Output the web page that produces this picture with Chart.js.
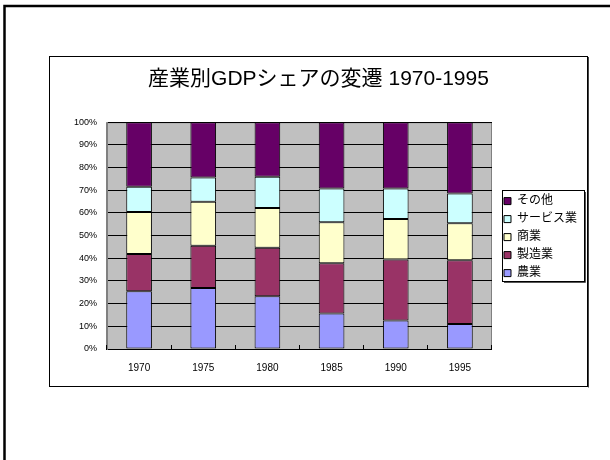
<!DOCTYPE html>
<html lang="ja">
<head>
<meta charset="utf-8">
<title>産業別GDPシェアの変遷</title>
<script src="https://cdn.jsdelivr.net/npm/chart.js@4/dist/chart.umd.min.js"></script>
<style>
  html, body { margin: 0; padding: 0; background: #fff; }
  canvas { display: block; }
</style>
</head>
<body>
<canvas id="gdpChart" width="610" height="460"></canvas>
<script>
// Dados (% do PIB por setor)
const anos = ['1970', '1975', '1980', '1985', '1990', '1995'];
const agricultura = [25.5, 26.9, 23.3, 15.6, 12.6, 11.0];   // 農業
const manufatura  = [16.4, 18.6, 21.3, 22.2, 26.9, 28.1];   // 製造業
const comercio    = [18.5, 19.4, 17.6, 18.1, 17.8, 16.3];   // 商業
const servicos    = [11.1, 10.7, 13.7, 14.9, 13.5, 13.2];   // サービス業
const outros      = [28.5, 24.4, 24.1, 29.2, 29.2, 31.4];   // その他
const ticksY = [0, 10, 20, 30, 40, 50, 60, 70, 80, 90, 100];

const titulo = '産業別GDPシェアの変遷 1970-1995';
const fonte = "'Liberation Sans', 'Noto Sans CJK JP', sans-serif";

// Moldura da página, caixa do gráfico e fundo cinza da área de plotagem
const molduraPlugin = {
    id: 'moldura',
    afterLayout(chart) {
        // legenda afastada da área de plotagem e centrada nela, como no original
        const lg = chart.legend;
        const area = chart.chartArea;
        lg.left += 6;
        lg.right += 6;
        lg.top = area.top + 1;
        lg.bottom = area.bottom + 2;
        lg.height = lg.bottom - lg.top;
    },
    beforeDraw(chart) {
        const ctx = chart.ctx;
        const area = chart.chartArea;
        ctx.save();
        ctx.fillStyle = '#fff';
        ctx.fillRect(0, 0, chart.width, chart.height);

        ctx.strokeStyle = '#000';
        ctx.lineWidth = 2.5;
        ctx.beginPath();
        ctx.moveTo(4.5, chart.height);
        ctx.lineTo(4.5, 6);
        ctx.lineTo(chart.width, 6);
        ctx.stroke();

        ctx.lineWidth = 1;
        ctx.strokeRect(49.5, 56.5, 538, 330);
        ctx.strokeStyle = '#444';
        ctx.beginPath();
        ctx.moveTo(588.5, 57);
        ctx.lineTo(588.5, 387.5);
        ctx.stroke();

        ctx.fillStyle = '#c0c0c0';
        ctx.fillRect(area.left, area.top, area.right - area.left, area.bottom - area.top);
        ctx.strokeStyle = '#808080';
        ctx.strokeRect(area.left - 0.5, area.top + 0.5, area.right - area.left, area.bottom - area.top);
        ctx.restore();
    },
    afterDraw(chart) {
        const caixas = chart.legend.legendHitBoxes;
        if (!caixas || !caixas.length) return;
        const ctx = chart.ctx;
        const esq = Math.min(...caixas.map(b => b.left)) - 2;
        const larg = Math.max(...caixas.map(b => b.width)) + 9;
        const topo = caixas[0].top - 5;
        const ult = caixas[caixas.length - 1];
        const base = ult.top + ult.height + 2;
        ctx.save();
        ctx.strokeStyle = '#000';
        ctx.lineWidth = 1;
        ctx.strokeRect(Math.round(esq) + 0.5, Math.round(topo) + 0.5, Math.round(larg), Math.round(base - topo));
        ctx.strokeStyle = '#555';
        ctx.beginPath();
        ctx.moveTo(Math.round(esq + larg) + 1.5, Math.round(topo) + 2);
        ctx.lineTo(Math.round(esq + larg) + 1.5, Math.round(base) + 1.5);
        ctx.lineTo(Math.round(esq) + 2, Math.round(base) + 1.5);
        ctx.stroke();
        ctx.restore();
    }
};

function serie(label, data, cor) {
    return {
        label: label,
        data: data,
        backgroundColor: cor,
        borderColor: '#000',
        borderWidth: 1,
        borderSkipped: false,
        barPercentage: 0.4,
        categoryPercentage: 1.0
    };
}

function createChart() {
    Chart.defaults.font.family = fonte;
    Chart.defaults.color = '#000';

    const ctx = document.getElementById('gdpChart').getContext('2d');
    new Chart(ctx, {
        type: 'bar',
        data: {
            labels: anos,
            datasets: [
                serie('農業', agricultura, '#9999ff'),
                serie('製造業', manufatura, '#993366'),
                serie('商業', comercio, '#ffffcc'),
                serie('サービス業', servicos, '#ccffff'),
                serie('その他', outros, '#660066')
            ]
        },
        options: {
            responsive: false,
            animation: false,
            layout: {
                padding: { left: 56, right: 29, top: 0, bottom: 81 }
            },
            plugins: {
                title: {
                    display: true,
                    text: titulo,
                    color: '#000',
                    font: { size: 21, weight: 'normal' },
                    padding: { top: 67, bottom: 30 }
                },
                legend: {
                    display: true,
                    position: 'right',
                    reverse: true,
                    labels: {
                        boxWidth: 7,
                        boxHeight: 7,
                        padding: 6,
                        color: '#000',
                        font: { size: 12 }
                    }
                },
                tooltip: { enabled: false }
            },
            scales: {
                x: {
                    stacked: true,
                    afterFit: s => { s.height = 30; },
                    grid: {
                        drawOnChartArea: false,
                        drawTicks: true,
                        tickLength: -4,
                        color: '#000'
                    },
                    border: { color: '#000', width: 1 },
                    ticks: { padding: 17, font: { size: 10 }, color: '#000' }
                },
                y: {
                    stacked: true,
                    min: 0,
                    max: 100,
                    afterFit: s => { s.width = 51; },
                    afterBuildTicks: s => { s.ticks = ticksY.map(v => ({ value: v })); },
                    grid: { color: '#000', drawTicks: false },
                    border: { color: '#808080', width: 1 },
                    ticks: {
                        padding: 10,
                        font: { size: 9 },
                        color: '#000',
                        callback: v => v + '%'
                    }
                }
            }
        },
        plugins: [molduraPlugin]
    });
}

window.onload = createChart;
</script>
</body>
</html>
